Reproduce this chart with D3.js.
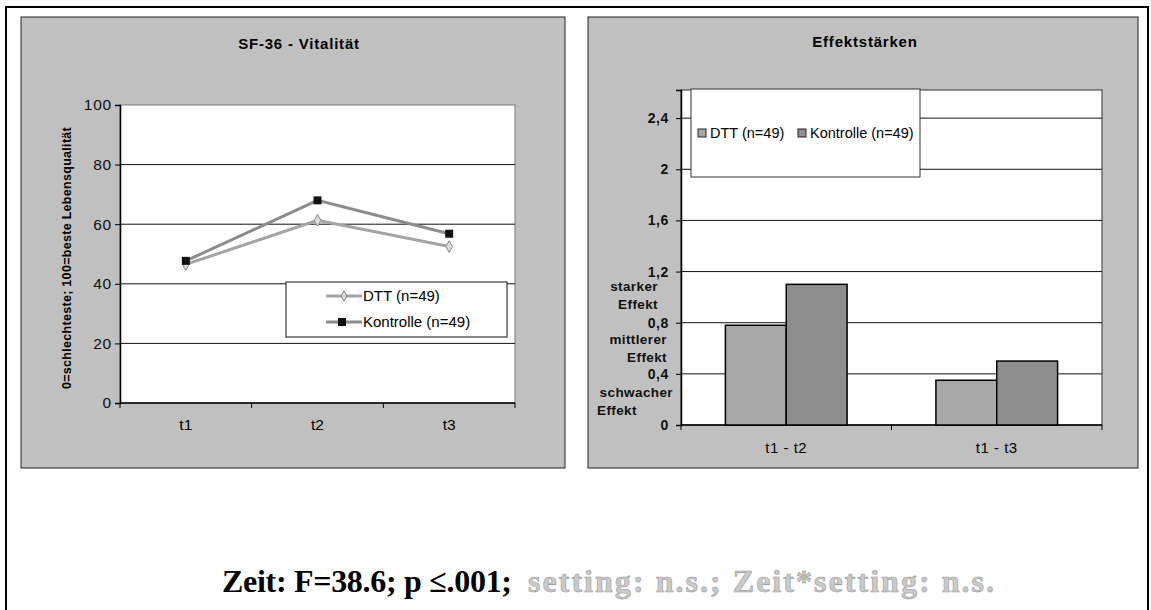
<!DOCTYPE html>
<html>
<head>
<meta charset="utf-8">
<script src="https://cdn.jsdelivr.net/npm/d3@7"></script>
<style>
  body { margin: 0; background: #fff; }
  text { font-family: Arial, "Liberation Sans", sans-serif; }
</style>
</head>
<body>
<script>
// left chart: SF-36 Vitalitaet
var timepoints = ["t1", "t2", "t3"];
var dttValues = [46.5, 61.3, 52.5];
var kontrolleValues = [47.7, 68.0, 56.8];
var vitTicks = [0, 20, 40, 60, 80, 100];

// right chart: effect sizes
var effectCategories = ["t1 - t2", "t1 - t3"];
var dttEffects = [0.78, 0.35];
var kontrolleEffects = [1.10, 0.50];
var effectTicks = [0, 0.4, 0.8, 1.2, 1.6, 2, 2.4];
var effectLevels = [1.2, 0.8, 0.4];
var effectLabels = [["starker", "Effekt"], ["mittlerer", "Effekt"], ["schwacher", "Effekt"]];

var seriesNames = ["DTT (n=49)", "Kontrolle (n=49)"];

var W = 1151, H = 610;
var panelFill = "#c0c0c0";

var svg = d3.select("body").append("svg")
    .attr("width", W)
    .attr("height", H);

// outer frame
svg.append("rect")
    .attr("x", 6).attr("y", 7).attr("width", 1142).attr("height", 640)
    .attr("fill", "none").attr("stroke", "#000").attr("stroke-width", 2);

// ---------- left panel ----------
var left = svg.append("g");
left.append("rect")
    .attr("x", 21).attr("y", 17).attr("width", 544).attr("height", 451)
    .attr("fill", panelFill).attr("stroke", "#222");

left.append("text")
    .attr("x", 299).attr("y", 49)
    .attr("text-anchor", "middle")
    .style("font-size", "15px").style("font-weight", "bold").style("letter-spacing", "0.8px")
    .text("SF-36 - Vitalität");

var x = d3.scalePoint().domain(timepoints).range([120, 515]).padding(0.5);
var xb = d3.scaleBand().domain(timepoints).range([120, 515]);
var y = d3.scaleLinear().domain([0, 100]).range([403, 105]);

left.append("rect")
    .attr("x", 120).attr("y", y(100))
    .attr("width", 395).attr("height", y(0) - y(100))
    .attr("fill", "#fff").attr("stroke", "#7a7a7a");

left.selectAll(".grid")
    .data(vitTicks.filter(function(d) { return d > 0 && d < 100; }))
    .enter().append("line")
    .attr("x1", 120).attr("x2", 515)
    .attr("y1", function(d) { return y(d); })
    .attr("y2", function(d) { return y(d); })
    .attr("stroke", "#111");

var yAxis = d3.axisLeft(y).tickValues(vitTicks).tickSize(5).tickPadding(3);
var gy = left.append("g").attr("transform", "translate(120,0)").call(yAxis);
gy.select(".domain").attr("stroke-width", 1.5);
gy.selectAll("text").style("font-size", "15.5px").style("letter-spacing", "0.8px").attr("fill", "#111");

// x axis
left.append("line")
    .attr("x1", 120).attr("x2", 515).attr("y1", y(0)).attr("y2", y(0))
    .attr("stroke", "#000").attr("stroke-width", 1.5);
var bounds = timepoints.map(function(d) { return xb(d); }).concat([xb.range()[1]]);
left.selectAll(".xt")
    .data(bounds)
    .enter().append("line")
    .attr("x1", function(d) { return d; }).attr("x2", function(d) { return d; })
    .attr("y1", y(0)).attr("y2", y(0) + 5)
    .attr("stroke", "#000");
left.selectAll(".xl")
    .data(timepoints)
    .enter().append("text")
    .attr("x", function(d) { return x(d); })
    .attr("y", y(0) + 27)
    .attr("text-anchor", "middle")
    .style("font-size", "15.5px")
    .text(function(d) { return d; });

left.append("text")
    .attr("transform", "translate(71," + ((y(0) + y(100)) / 2 + 4) + ") rotate(-90)")
    .attr("text-anchor", "middle")
    .style("font-size", "12.5px").style("font-weight", "bold").style("letter-spacing", "0.3px")
    .text("0=schlechteste; 100=beste Lebensqualität");

var line = d3.line()
    .x(function(d, i) { return x(timepoints[i]); })
    .y(function(d) { return y(d); });

left.append("path").datum(dttValues)
    .attr("d", line).attr("fill", "none")
    .attr("stroke", "#a4a4a4").attr("stroke-width", 3);
left.append("path").datum(kontrolleValues)
    .attr("d", line).attr("fill", "none")
    .attr("stroke", "#8c8c8c").attr("stroke-width", 3);

left.selectAll(".dm")
    .data(dttValues)
    .enter().append("path")
    .attr("d", d3.symbol(d3.symbolDiamond, 40))
    .attr("transform", function(d, i) { return "translate(" + x(timepoints[i]) + "," + y(d) + ")"; })
    .attr("fill", "#ddd").attr("stroke", "#888");
left.selectAll(".km")
    .data(kontrolleValues)
    .enter().append("rect")
    .attr("x", function(d, i) { return x(timepoints[i]) - 4; })
    .attr("y", function(d) { return y(d) - 4; })
    .attr("width", 8).attr("height", 8)
    .attr("fill", "#111");

// left legend
var lg = left.append("g").attr("transform", "translate(286,282)");
lg.append("rect").attr("width", 221).attr("height", 55)
    .attr("fill", "#fff").attr("stroke", "#111");
lg.append("line").attr("x1", 40).attr("x2", 76).attr("y1", 14).attr("y2", 14)
    .attr("stroke", "#a4a4a4").attr("stroke-width", 3);
lg.append("path").attr("d", d3.symbol(d3.symbolDiamond, 30))
    .attr("transform", "translate(58,14)").attr("fill", "#ddd").attr("stroke", "#888");
lg.append("line").attr("x1", 40).attr("x2", 76).attr("y1", 40).attr("y2", 40)
    .attr("stroke", "#8c8c8c").attr("stroke-width", 3);
lg.append("rect").attr("x", 52).attr("y", 36).attr("width", 8).attr("height", 8).attr("fill", "#111");
lg.selectAll("text")
    .data(seriesNames)
    .enter().append("text")
    .attr("x", 77).attr("y", function(d, i) { return 19 + i * 26; })
    .style("font-size", "15px")
    .text(function(d) { return d; });

// ---------- right panel ----------
var right = svg.append("g");
right.append("rect")
    .attr("x", 588).attr("y", 17).attr("width", 550).attr("height", 451)
    .attr("fill", panelFill).attr("stroke", "#222");

right.append("text")
    .attr("x", 865).attr("y", 47)
    .attr("text-anchor", "middle")
    .style("font-size", "15px").style("font-weight", "bold").style("letter-spacing", "0.8px")
    .text("Effektstärken");

var x0 = d3.scaleBand().domain(effectCategories).range([681, 1102]);
var x1 = d3.scaleBand().domain(seriesNames).range([0, x0.bandwidth()]).paddingInner(0).paddingOuter(0.73);
var y2 = d3.scaleLinear().domain([0, 2.62]).range([425, 90]);
var barColor = d3.scaleOrdinal().domain(seriesNames).range(["#a8a8a8", "#8e8e8e"]);

right.append("rect")
    .attr("x", 681).attr("y", y2(2.62))
    .attr("width", 421).attr("height", y2(0) - y2(2.62))
    .attr("fill", "#fff").attr("stroke", "#333");

right.selectAll(".grid")
    .data(effectTicks.filter(function(d) { return d > 0; }))
    .enter().append("line")
    .attr("x1", 681).attr("x2", 1102)
    .attr("y1", function(d) { return y2(d); })
    .attr("y2", function(d) { return y2(d); })
    .attr("stroke", "#111");

var fmt = function(d) { return String(d).replace(".", ","); };
var gy2 = right.append("g").attr("transform", "translate(681,0)")
    .call(d3.axisLeft(y2).tickValues(effectTicks).tickFormat(fmt).tickSize(5).tickPadding(7));
gy2.select(".domain").attr("stroke-width", 1.5);
gy2.selectAll("text").style("font-size", "14px").style("font-weight", "bold")
    .style("letter-spacing", "0.6px").attr("fill", "#111");

right.append("line")
    .attr("x1", 681).attr("x2", 1102).attr("y1", y2(0)).attr("y2", y2(0))
    .attr("stroke", "#000").attr("stroke-width", 1.5);
var bounds2 = effectCategories.map(function(d) { return x0(d); }).concat([x0.range()[1]]);
right.selectAll(".xt")
    .data(bounds2)
    .enter().append("line")
    .attr("x1", function(d) { return d; }).attr("x2", function(d) { return d; })
    .attr("y1", y2(0)).attr("y2", y2(0) + 5)
    .attr("stroke", "#000");
right.selectAll(".xl")
    .data(effectCategories)
    .enter().append("text")
    .attr("x", function(d) { return x0(d) + x0.bandwidth() / 2; })
    .attr("y", y2(0) + 28)
    .attr("text-anchor", "middle")
    .style("font-size", "15px").style("letter-spacing", "0.5px")
    .text(function(d) { return d; });

// effect-size annotations between the tick labels
var annotEnds = [658, 667, 673];
effectLabels.forEach(function(lines, i) {
    lines.forEach(function(t, j) {
        var last = (i === 2 && j === 1);
        right.append("text")
            .attr("x", last ? 597 : annotEnds[i])
            .attr("y", y2(effectLevels[i]) + 19 + j * 18 + i * 2)
            .attr("text-anchor", last ? "start" : "end")
            .style("font-size", "13.5px").style("font-weight", "bold")
            .style("letter-spacing", "0.4px")
            .attr("fill", "#111")
            .text(t);
    });
});

var bars = effectCategories.map(function(c, i) {
    return { cat: c, values: [
        { name: seriesNames[0], value: dttEffects[i] },
        { name: seriesNames[1], value: kontrolleEffects[i] }
    ] };
});

var slice = right.selectAll(".slice")
    .data(bars)
    .enter().append("g")
    .attr("transform", function(d) { return "translate(" + x0(d.cat) + ",0)"; });

slice.selectAll("rect")
    .data(function(d) { return d.values; })
    .enter().append("rect")
    .attr("x", function(d) { return x1(d.name); })
    .attr("width", x1.bandwidth())
    .attr("y", function(d) { return y2(d.value); })
    .attr("height", function(d) { return y2(0) - y2(d.value); })
    .attr("fill", function(d) { return barColor(d.name); })
    .attr("stroke", "#000").attr("stroke-width", 1.5);

// right legend
var rg = right.append("g").attr("transform", "translate(691,89)");
rg.append("rect").attr("width", 229).attr("height", 88)
    .attr("fill", "#fff").attr("stroke", "#333");
var legX = [7, 107];
seriesNames.forEach(function(n, i) {
    rg.append("rect").attr("x", legX[i]).attr("y", 40).attr("width", 8).attr("height", 8)
        .attr("fill", barColor(n)).attr("stroke", "#222");
    rg.append("text").attr("x", legX[i] + 12).attr("y", 49)
        .style("font-size", "14.5px")
        .text(n);
});

// ---------- statistics line ----------
var statFont = "'Liberation Serif', 'Times New Roman', serif";
svg.append("text")
    .attr("x", 222).attr("y", 592)
    .attr("textLength", 290).attr("lengthAdjust", "spacing")
    .style("font-family", statFont)
    .style("font-size", "32px").style("font-weight", "bold")
    .attr("fill", "#000")
    .text("Zeit: F=38.6; p ≤.001;");
svg.append("text")
    .attr("x", 528).attr("y", 592)
    .attr("textLength", 466).attr("lengthAdjust", "spacing")
    .style("font-family", statFont)
    .style("font-size", "32px").style("font-weight", "bold")
    .attr("fill", "#cacaca").attr("stroke", "#9a9a9a").attr("stroke-width", 0.6)
    .text("setting: n.s.; Zeit*setting: n.s.");
</script>
</body>
</html>
